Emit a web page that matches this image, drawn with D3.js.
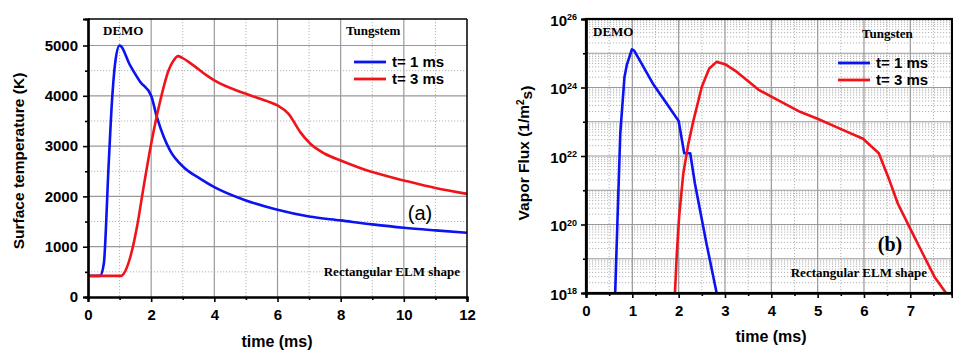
<!DOCTYPE html>
<html lang="en">
<head>
<meta charset="utf-8"/>
<title>Surface temperature and vapor flux</title>
<script src="https://cdn.jsdelivr.net/npm/d3@7"></script>
<style>
  body { margin: 0; background: #fff; }
  .serif { font-family: "Liberation Serif", "Times New Roman", serif; font-weight: bold; font-size: 13px; }
  .sans { font-family: "Liberation Sans", Arial, sans-serif; }
</style>
</head>
<body>
<svg id="chart" width="953" height="350"></svg>
<script>
// ---- data: panel (a) surface temperature (K) vs time (ms)
var tempBlueT = [0, 0.38, 0.5, 0.65, 0.76, 0.87, 1.0, 1.33, 1.65, 2.0, 2.18, 2.4, 2.6, 3.03, 3.56, 4, 5, 6, 7, 8, 9, 10, 11, 12];
var tempBlueK = [420, 420, 660, 2580, 3900, 4700, 5000, 4610, 4280, 4000, 3580, 3180, 2910, 2580, 2350, 2185, 1920, 1735, 1600, 1523, 1444, 1377, 1325, 1278];
var tempRedT = [0, 1.05, 1.13, 1.34, 1.55, 1.76, 2.0, 2.29, 2.55, 2.71, 2.85, 2.98, 3.35, 3.77, 4, 5, 5.67, 6, 6.35, 6.72, 7.04, 7.5, 8, 9, 10, 11, 12];
var tempRedK = [420, 420, 463, 795, 1390, 2185, 3046, 3907, 4503, 4700, 4788, 4755, 4600, 4400, 4305, 4040, 3894, 3808, 3642, 3278, 3046, 2848, 2715, 2483, 2318, 2166, 2050];

// ---- data: panel (b) vapor flux (1/m2 s) vs time (ms)
var fluxBlueT = [0.63, 0.67, 0.74, 0.83, 0.88, 0.99, 1.04, 1.24, 1.46, 1.74, 2.0, 2.12, 2.25, 2.35, 2.6, 2.82];
var fluxBlueV = [1e18, 5.4e19, 4.6e22, 2.0e24, 4.5e24, 1.3e25, 1.2e25, 4.0e24, 1.2e24, 3.4e23, 1.05e23, 1.2e22, 1.2e22, 1.6e21, 2.8e19, 1e18];
var fluxRedT = [1.92, 1.96, 2.01, 2.1, 2.21, 2.32, 2.5, 2.66, 2.82, 3.0, 3.25, 3.72, 4.0, 4.62, 5.01, 5.48, 5.98, 6.32, 6.55, 6.73, 6.98, 7.27, 7.52, 7.77];
var fluxRedV = [1e18, 1.4e19, 1.7e20, 3.1e21, 2.3e22, 1.1e23, 1.05e24, 3.6e24, 5.6e24, 4.8e24, 2.9e24, 8.7e23, 5.4e23, 1.95e23, 1.2e23, 6.3e22, 3.2e22, 1.2e22, 1.95e21, 4.1e20, 8.5e19, 1.4e19, 3.0e18, 1e18];

var seriesNames = ["t= 1 ms", "t= 3 ms"];
var seriesColors = ["#0b13f0", "#f0141a"];

var tempTicksX = [0, 2, 4, 6, 8, 10, 12];
var tempTicksY = [0, 1000, 2000, 3000, 4000, 5000];
var fluxTicksX = [0, 1, 2, 3, 4, 5, 6, 7];
var fluxExpLabels = [18, 20, 22, 24, 26];

var svg = d3.select("#chart");

function zip(a, b) { return a.map(function(d, i) { return [d, b[i]]; }); }

// tick label style, applied after each axis call
function boldTicks(sel) {
  sel.attr("font-size", null).attr("font-family", null).attr("fill", "#000");
  sel.selectAll(".tick text")
    .style("font-family", "'Liberation Sans', Arial, sans-serif")
    .style("font-weight", "bold")
    .style("font-size", "15px")
    .attr("fill", "#000");
  sel.selectAll(".tick line").attr("stroke", "#000").attr("stroke-width", 1.6);
  sel.select(".domain").attr("stroke", "#000").attr("stroke-width", 2.2).attr("fill", "none");
}

// grid: vertical lines at xs, horizontal lines at ys (stroke set on each line)
function grid(g, x, y, box, xs, ys, major) {
  var col = major ? "#999999" : "#b4b4b4";
  var w = major ? 1.2 : 1;
  var dash = major ? "none" : "1.2 1.8";
  var gg = g.append("g");
  gg.selectAll("line.v").data(xs).enter().append("line").attr("class", "v")
    .attr("x1", function(d) { return x(d); })
    .attr("x2", function(d) { return x(d); })
    .attr("y1", box.top).attr("y2", box.bottom)
    .style("stroke", col).style("stroke-width", w).style("stroke-dasharray", dash);
  gg.selectAll("line.h").data(ys).enter().append("line").attr("class", "h")
    .attr("y1", function(d) { return y(d); })
    .attr("y2", function(d) { return y(d); })
    .attr("x1", box.left).attr("x2", box.right)
    .style("stroke", col).style("stroke-width", w).style("stroke-dasharray", dash);
}

// ================= panel (a) =================
var A = {left: 88, right: 467, top: 19, bottom: 297};
var xA = d3.scaleLinear().domain([0, 12]).range([A.left, A.right]);
var yA = d3.scaleLinear().domain([0, 5527]).range([A.bottom, A.top]);
var gA = svg.append("g");

grid(gA, xA, yA, A, d3.range(1, 12, 2), d3.range(500, 5500, 1000), false);
grid(gA, xA, yA, A, tempTicksX.slice(1, -1), tempTicksY.slice(1), true);

// curves
var lineA = d3.line().x(function(d) { return xA(d[0]); }).y(function(d) { return yA(d[1]); }).curve(d3.curveMonotoneX);
[zip(tempBlueT, tempBlueK), zip(tempRedT, tempRedK)].forEach(function(s, i) {
  gA.append("path").datum(s).attr("d", lineA)
    .attr("fill", "none").attr("stroke", seriesColors[i]).attr("stroke-width", 2.6).attr("stroke-linejoin", "round");
});

// frame
gA.append("line").attr("x1", A.left).attr("x2", A.right).attr("y1", A.top).attr("y2", A.top).attr("stroke", "#000").attr("stroke-width", 1.5);
gA.append("line").attr("x1", A.right).attr("x2", A.right).attr("y1", A.top).attr("y2", A.bottom).attr("stroke", "#000").attr("stroke-width", 1.5);

// axes
gA.append("g").attr("transform", "translate(0," + A.bottom + ")")
  .call(d3.axisBottom(xA).tickValues(d3.range(1, 12, 2)).tickSize(3).tickFormat(""))
  .call(boldTicks);
gA.append("g").attr("transform", "translate(0," + A.bottom + ")")
  .call(d3.axisBottom(xA).tickValues(tempTicksX).tickSize(5).tickPadding(4).tickFormat(d3.format("d")))
  .call(boldTicks)
  .selectAll(".tick text").attr("dy", "0.95em");
gA.append("g").attr("transform", "translate(" + A.left + ",0)")
  .call(d3.axisLeft(yA).tickValues(d3.range(500, 5500, 1000)).tickSize(3).tickFormat(""))
  .call(boldTicks);
gA.append("g").attr("transform", "translate(" + A.left + ",0)")
  .call(d3.axisLeft(yA).tickValues(tempTicksY).tickSize(5).tickPadding(5).tickFormat(d3.format("d")))
  .call(boldTicks);

// texts
gA.append("text").attr("class", "serif").attr("x", 103).attr("y", 35).text("DEMO");
gA.append("text").attr("class", "serif").attr("x", 346).attr("y", 35).text("Tungstem");
gA.append("text").attr("class", "serif").attr("x", 460).attr("y", 276).attr("text-anchor", "end").text("Rectangular ELM shape");
gA.append("text").attr("class", "sans").attr("x", 420).attr("y", 220).attr("text-anchor", "middle")
  .style("font-size", "20px").text("(a)");
gA.append("text").attr("class", "sans").attr("x", 277).attr("y", 347).attr("text-anchor", "middle")
  .style("font-size", "16px").style("font-weight", "bold").text("time (ms)");
gA.append("text").attr("class", "sans").attr("transform", "translate(24,161) rotate(-90)").attr("text-anchor", "middle")
  .style("font-size", "15.5px").style("font-weight", "bold").text("Surface temperature (K)");

// legend
seriesNames.forEach(function(n, i) {
  var yy = 62 + i * 17;
  gA.append("line").attr("x1", 354).attr("x2", 386).attr("y1", yy).attr("y2", yy)
    .attr("stroke", seriesColors[i]).attr("stroke-width", 2.8);
  gA.append("text").attr("class", "sans").attr("x", 392).attr("y", yy + 5)
    .style("font-size", "15px").style("font-weight", "bold").text(n);
});

// ================= panel (b) =================
var B = {left: 586, right: 952, top: 19, bottom: 293};
var xB = d3.scaleLinear().domain([0, 7.9]).range([B.left, B.right]);
var yB = d3.scaleLog().domain([1e18, 1e26]).range([B.bottom, B.top]);
var gB = svg.append("g");

var decades = d3.range(18, 27);
var minorY = [];
decades.slice(0, -1).forEach(function(e) { for (var k = 2; k < 10; k++) minorY.push(k * Math.pow(10, e)); });
var majorY = decades.map(function(e) { return Math.pow(10, e); });

grid(gB, xB, yB, B, d3.range(0.5, 7.9, 1), minorY, false);
grid(gB, xB, yB, B, fluxTicksX.slice(1), majorY.slice(1, -1), true);

var lineB = d3.line().x(function(d) { return xB(d[0]); }).y(function(d) { return yB(d[1]); });
[zip(fluxBlueT, fluxBlueV), zip(fluxRedT, fluxRedV)].forEach(function(s, i) {
  gB.append("path").datum(s).attr("d", lineB)
    .attr("fill", "none").attr("stroke", seriesColors[i]).attr("stroke-width", 2.6).attr("stroke-linejoin", "round");
});

gB.append("rect").attr("x", B.left).attr("y", B.top).attr("width", B.right - B.left).attr("height", B.bottom - B.top)
  .attr("fill", "none").attr("stroke", "#000").attr("stroke-width", 2.2);

gB.append("g").attr("transform", "translate(0," + B.bottom + ")")
  .call(d3.axisBottom(xB).tickValues(d3.range(0.5, 7.9, 1)).tickSize(3).tickFormat(""))
  .call(boldTicks);
gB.append("g").attr("transform", "translate(0," + B.bottom + ")")
  .call(d3.axisBottom(xB).tickValues(fluxTicksX).tickSize(5).tickPadding(4))
  .call(boldTicks)
  .selectAll(".tick text").attr("dy", "0.9em");
gB.append("g").attr("transform", "translate(" + B.left + ",0)")
  .call(d3.axisLeft(yB).tickValues(majorY.filter(function(v, i) { return i % 2 === 1; })).tickSize(3).tickFormat(""))
  .call(boldTicks);
var ayB = gB.append("g").attr("transform", "translate(" + B.left + ",0)")
  .call(d3.axisLeft(yB).tickValues(fluxExpLabels.map(function(e) { return Math.pow(10, e); })).tickSize(5).tickFormat(""))
  .call(boldTicks);
ayB.selectAll(".tick").each(function(d) {
  var t = d3.select(this).append("text").attr("x", -9).attr("dy", "0.4em").attr("text-anchor", "end").attr("fill", "#000")
    .style("font-family", "'Liberation Sans', Arial, sans-serif").style("font-weight", "bold").style("font-size", "15px");
  t.append("tspan").text("10");
  t.append("tspan").attr("dy", "-0.6em").style("font-size", "9px").text(Math.round(Math.log10(d)));
});

gB.append("text").attr("class", "serif").attr("x", 593).attr("y", 36).text("DEMO");
gB.append("text").attr("class", "serif").attr("x", 862).attr("y", 38).text("Tungsten");
gB.append("text").attr("class", "serif").attr("x", 927).attr("y", 277).attr("text-anchor", "end").text("Rectangular ELM shape");
gB.append("text").attr("class", "serif").attr("x", 890).attr("y", 251).attr("text-anchor", "middle")
  .style("font-size", "20px").text("(b)");
gB.append("text").attr("class", "sans").attr("x", 771).attr("y", 342).attr("text-anchor", "middle")
  .style("font-size", "16px").style("font-weight", "bold").text("time (ms)");
var yl = gB.append("text").attr("class", "sans").attr("transform", "translate(529,153) rotate(-90)").attr("text-anchor", "middle")
  .style("font-size", "15.5px").style("font-weight", "bold");
yl.append("tspan").text("Vapor Flux (1/m");
yl.append("tspan").attr("dy", "-0.5em").style("font-size", "10px").text("2");
yl.append("tspan").attr("dy", "0.5em").text("s)");

seriesNames.forEach(function(n, i) {
  var yy = 63 + i * 17;
  gB.append("line").attr("x1", 838).attr("x2", 870).attr("y1", yy).attr("y2", yy)
    .attr("stroke", seriesColors[i]).attr("stroke-width", 2.8);
  gB.append("text").attr("class", "sans").attr("x", 876).attr("y", yy + 5)
    .style("font-size", "15px").style("font-weight", "bold").text(n);
});
</script>
</body>
</html>
